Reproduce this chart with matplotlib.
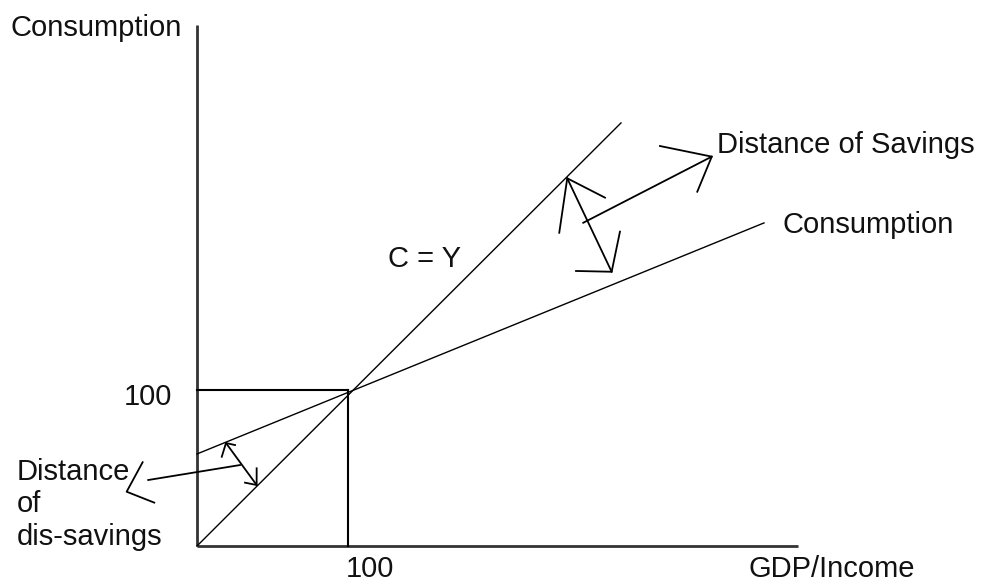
import matplotlib
matplotlib.use("Agg")
import matplotlib.pyplot as plt

plt.rcParams['font.family'] = ['Liberation Sans', 'DejaVu Sans']

# ---- data (economic units; 100 marks the break-even point) ----
axis_x_end = 398
axis_y_end = 334
break_even = 100

cy_line_x = [0, 280.8]
cy_line_y = [0, 271.2]

cons_line_x = [0, 375.5]
cons_line_y = [59.0, 207.1]

# savings double arrow (between C=Y and Consumption)
sav_shaft_x = [245.2, 274.6]
sav_shaft_y = [235.7, 175.8]
sav_headA_x = [239.9, 245.2, 270.2]
sav_headA_y = [200.8, 235.7, 223.3]
sav_headB_x = [280.1, 274.6, 251.0]
sav_headB_y = [201.5, 175.8, 176.3]
# pointer to "Distance of Savings"
sav_ptr_x = [255.8, 340.9]
sav_ptr_y = [207.2, 249.6]
sav_ptr_head_x = [306.6, 340.9, 331.3]
sav_ptr_head_y = [256.4, 249.6, 227.1]

# dis-savings double arrow
dis_shaft_x = [19.2, 39.5]
dis_shaft_y = [66.0, 39.1]
dis_headA_x = [16.4, 19.2, 25.2]
dis_headA_y = [57.2, 66.0, 64.7]
dis_headB_x = [39.5, 39.5, 31.8]
dis_headB_y = [49.8, 39.1, 40.6]
# pointer to "Distance of dis-savings"
dis_ptr_x = [-32.3, 28.5]
dis_ptr_y = [42.3, 51.9]
dis_ptr_head_x = [-36.0, -46.6, -28.3]
dis_ptr_head_y = [53.7, 34.8, 27.8]

# ---- figure ----
W, H = 989, 584
fig = plt.figure(figsize=(W / 100, H / 100), dpi=100)
ax = fig.add_axes([0, 0, 1, 1])
sx, sy = 1.51, 1.56
ox, oy = 197, 546
ax.set_xlim(-ox / sx, (W - ox) / sx)
ax.set_ylim(-(H - oy) / sy, oy / sy)
ax.axis('off')

k = 'black'
thin = 1.0
# axes
ax.plot([0, 0], [0, axis_y_end], color='#333333', lw=2.0, solid_capstyle='butt')
ax.plot([0, axis_x_end], [0, 0], color='#333333', lw=2.0, solid_capstyle='butt')
# guides at 100
ax.plot([0, break_even], [break_even, break_even], color=k, lw=1.5)
ax.plot([break_even, break_even], [0, break_even], color=k, lw=1.5)

ax.plot(cy_line_x, cy_line_y, color=k, lw=thin)
ax.plot(cons_line_x, cons_line_y, color=k, lw=thin)

for xs, ys in [(sav_shaft_x, sav_shaft_y), (sav_headA_x, sav_headA_y),
               (sav_headB_x, sav_headB_y), (sav_ptr_x, sav_ptr_y),
               (sav_ptr_head_x, sav_ptr_head_y),
               (dis_shaft_x, dis_shaft_y), (dis_headA_x, dis_headA_y),
               (dis_headB_x, dis_headB_y), (dis_ptr_x, dis_ptr_y),
               (dis_ptr_head_x, dis_ptr_head_y)]:
    ax.plot(xs, ys, color=k, lw=1.3)


def px(x, y):
    return (x - ox) / sx, (oy - y) / sy


fs = 21
tc = '#111111'
ax.text(*px(10, 36.5), 'Consumption', fontsize=fs, color=tc, ha='left', va='baseline')
ax.text(*px(172, 405), '100', fontsize=fs, color=tc, ha='right', va='baseline')
ax.text(*px(346, 577), '100', fontsize=fs, color=tc, ha='left', va='baseline')
ax.text(*px(748, 577), 'GDP/Income', fontsize=fs, color=tc, ha='left', va='baseline')
ax.text(*px(717, 153.3), 'Distance of Savings', fontsize=fs, color=tc, ha='left', va='baseline')
ax.text(*px(782, 233.3), 'Consumption', fontsize=fs, color=tc, ha='left', va='baseline')
ax.text(*px(388, 267), 'C = Y', fontsize=fs, color=tc, ha='left', va='baseline')
ax.text(*px(17, 480), 'Distance', fontsize=fs, color=tc, ha='left', va='baseline')
ax.text(*px(17, 512), 'of', fontsize=fs, color=tc, ha='left', va='baseline')
ax.text(*px(17, 545), 'dis-savings', fontsize=fs, color=tc, ha='left', va='baseline')

fig.savefig('out.png', dpi=100)
